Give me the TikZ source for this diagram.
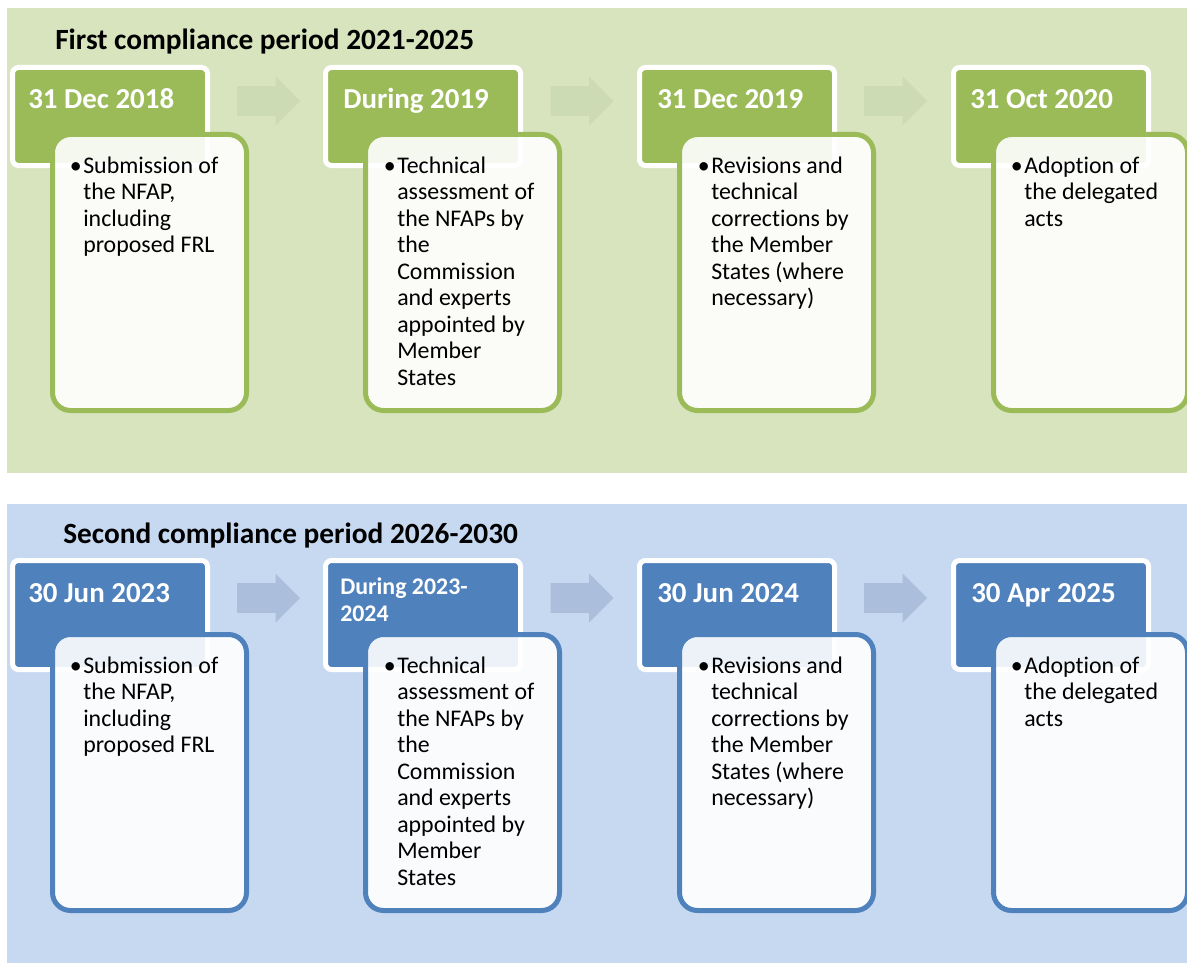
\documentclass[tikz,border=0pt]{standalone}
\usepackage{fontspec}
\setmainfont[Ligatures={NoCommon}]{Carlito}
\usetikzlibrary{shapes.arrows}
\definecolor{gbg}{HTML}{D7E4BD}
\definecolor{ghead}{HTML}{9BBB59}
\definecolor{garrow}{HTML}{CCDBB3}
\definecolor{bbg}{HTML}{C6D9F1}
\definecolor{bhead}{HTML}{4F81BD}
\definecolor{barrow}{HTML}{ABBFDD}
\newcommand{\bodylines}[1]{\parbox[t]{170pt}{\raggedright\leavevmode\llap{•\hspace{1.2pt}}#1}}
\begin{document}
\begin{tikzpicture}[x=0.75pt,y=-0.75pt,
  headbox/.style={draw=white, line width=3.75pt, rounded corners=4.5pt, minimum width=146.25pt, anchor=north west, outer sep=0pt, inner sep=0pt},
  bodybox/.style={line width=3.75pt, fill=white, fill opacity=0.9, rounded corners=13.5pt, minimum width=145.5pt, minimum height=207pt, anchor=north west, outer sep=0pt, inner sep=0pt},
  headtext/.style={anchor=base west, inner sep=0pt, text=white, font=\fontsize{21.7}{25}\selectfont\bfseries},
  headsmall/.style={anchor=base west, inner sep=0pt, text=white, align=left, font=\fontsize{17.9}{20.25}\selectfont\bfseries},
  bodytext/.style={anchor=base west, inner sep=0pt, font=\fontsize{17.9}{19.9}\selectfont},
  titletext/.style={anchor=base west, inner sep=0pt, font=\fontsize{22}{26}\selectfont\bfseries},
  flowarrow/.style={single arrow, draw=none, anchor=tail, inner xsep=0pt, inner ysep=10.875pt, single arrow head extend=7.125pt, minimum height=47.25pt, minimum width=36pt, outer sep=0pt}
]
\useasboundingbox (0,0) rectangle (1187,963);
\fill[white] (0,0) rectangle (1187,963);
% panels
\fill[gbg] (7,8) rectangle (1187,472.5);
\fill[bbg] (7,504) rectangle (1187,963);

% ---------- first period ----------
\node[titletext] (t1) at (55,50) {First compliance period 2021-2025};

\node[headbox, fill=ghead, minimum height=73.5pt] (g1h) at (12.5,67.5) {};
\node[headbox, fill=ghead, minimum height=73.5pt] (g2h) at (325.5,67.5) {};
\node[headbox, fill=ghead, minimum height=73.5pt] (g3h) at (639.5,67.5) {};
\node[headbox, fill=ghead, minimum height=73.5pt] (g4h) at (953.5,67.5) {};

\node[flowarrow, fill=garrow] (ga1) at (237,101) {};
\node[flowarrow, fill=garrow] (ga2) at (550.5,101) {};
\node[flowarrow, fill=garrow] (ga3) at (864,101) {};

\node[headtext] (g1d) at (28,109) {31 Dec 2018};
\node[headtext] (g2d) at (343,109) {During 2019};
\node[headtext] (g3d) at (657,109) {31 Dec 2019};
\node[headtext] (g4d) at (970,109) {31 Oct 2020};

\node[bodybox, draw=ghead] (g1b) at (52.5,134.5) {};
\node[bodybox, draw=ghead] (g2b) at (365.5,134.5) {};
\node[bodybox, draw=ghead] (g3b) at (679.5,134.5) {};
\node[bodybox, draw=ghead] (g4b) at (993.5,134.5) {};

\node[bodytext] (g1t) at (83,173) {\bodylines{Submission of\\the NFAP,\\including\\proposed FRL}};
\node[bodytext] (g2t) at (397,173) {\bodylines{Technical\\assessment of\\the NFAPs by\\the\\Commission\\and experts\\appointed by\\Member\\States}};
\node[bodytext] (g3t) at (711,173) {\bodylines{Revisions and\\technical\\corrections by\\the Member\\States (where\\necessary)}};
\node[bodytext] (g4t) at (1024,173) {\bodylines{Adoption of\\the delegated\\acts}};

% ---------- second period ----------
\node[titletext] (t2) at (63,543) {Second compliance period 2026-2030};

\node[headbox, fill=bhead, minimum height=81.75pt] (b1h) at (12.5,560.5) {};
\node[headbox, fill=bhead, minimum height=81.75pt] (b2h) at (325.5,560.5) {};
\node[headbox, fill=bhead, minimum height=81.75pt] (b3h) at (639.5,560.5) {};
\node[headbox, fill=bhead, minimum height=81.75pt] (b4h) at (953.5,560.5) {};

\node[flowarrow, fill=barrow] (ba1) at (237,598) {};
\node[flowarrow, fill=barrow] (ba2) at (550.5,598) {};
\node[flowarrow, fill=barrow] (ba3) at (864,598) {};

\node[headtext] (b1d) at (28,602) {30 Jun 2023};
\node[headsmall] (b2d) at (340,594) {\parbox[t]{140pt}{During 2023-\\2024}};
\node[headtext] (b3d) at (657,602) {30 Jun 2024};
\node[headtext] (b4d) at (971,602) {30 Apr 2025};

\node[bodybox, draw=bhead] (b1b) at (52.5,634.5) {};
\node[bodybox, draw=bhead] (b2b) at (365.5,634.5) {};
\node[bodybox, draw=bhead] (b3b) at (679.5,634.5) {};
\node[bodybox, draw=bhead] (b4b) at (993.5,634.5) {};

\node[bodytext] (b1t) at (83,673) {\bodylines{Submission of\\the NFAP,\\including\\proposed FRL}};
\node[bodytext] (b2t) at (397,673) {\bodylines{Technical\\assessment of\\the NFAPs by\\the\\Commission\\and experts\\appointed by\\Member\\States}};
\node[bodytext] (b3t) at (711,673) {\bodylines{Revisions and\\technical\\corrections by\\the Member\\States (where\\necessary)}};
\node[bodytext] (b4t) at (1024,673) {\bodylines{Adoption of\\the delegated\\acts}};
\end{tikzpicture}
\end{document}
